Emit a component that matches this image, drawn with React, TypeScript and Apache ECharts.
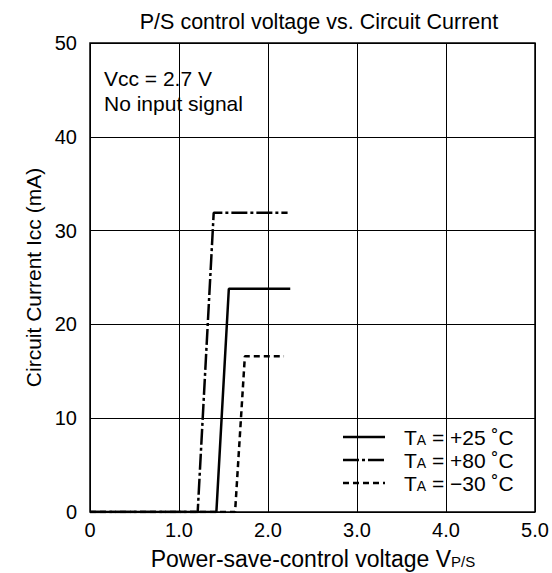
import React, { useEffect, useRef } from "react";
import * as echarts from "echarts";

const xTicks = [0, 1, 2, 3, 4, 5];
const yTicks = [0, 10, 20, 30, 40, 50];
const seriesNames = ["TA = +25 °C", "TA = +80 °C", "TA = −30 °C"];
const legendLabels = ["+25", "+80", "−30"];
const t25: [number, number][] = [[0, 0], [1.42, 0], [1.56, 23.8], [2.25, 23.8]];
const t80: [number, number][] = [[0, 0], [1.21, 0], [1.39, 31.9], [2.22, 31.9]];
const tm30: [number, number][] = [[0, 0], [1.63, 0], [1.74, 16.6], [2.18, 16.6]];

const FONT = "Liberation Sans, Arial, sans-serif";
const FS = 21;

export default function App() {
  const ref = useRef<HTMLDivElement>(null);
  useEffect(() => {
    if (!ref.current) return;
    const chart = echarts.init(ref.current, null, { renderer: "svg" });
    const dashTypes: any[] = ["solid", [16, 3, 3, 3], [6, 4]];
    const legendY = [437, 460, 483];
    const graphics: any[] = [];
    legendY.forEach((y, i) => {
      graphics.push({
        type: "line",
        shape: { x1: 343, y1: y, x2: 385, y2: y },
        style: { stroke: "#000", lineWidth: 2.5, lineDash: i === 0 ? null : dashTypes[i] },
      });
      graphics.push({
        type: "text",
        x: 404,
        y,
        style: {
          text: `{a|T}{s|A}{a| = ${legendLabels[i]} ˚C}`,
          verticalAlign: "middle",
          rich: {
            a: { fontSize: FS, fontFamily: FONT, fill: "#000" },
            s: { fontSize: 14, fontFamily: FONT, fill: "#000", padding: [5, 0, 0, 0] },
          },
        },
      });
    });
    graphics.push({
      type: "text",
      x: 104,
      y: 78,
      style: { text: "Vcc = 2.7 V", fontSize: FS, fontFamily: FONT, fill: "#000", verticalAlign: "middle" },
    });
    graphics.push({
      type: "text",
      x: 104,
      y: 103,
      style: { text: "No input signal", fontSize: FS, fontFamily: FONT, fill: "#000", verticalAlign: "middle" },
    });
    graphics.push({
      type: "text",
      x: 313,
      y: 559,
      style: {
        text: "{a|Power-save-control voltage V}{s|P/S}",
        align: "center",
        verticalAlign: "middle",
        rich: {
          a: { fontSize: 23, fontFamily: FONT, fill: "#000" },
          s: { fontSize: 15, fontFamily: FONT, fill: "#000", padding: [5, 0, 0, 0] },
        },
      },
    });

    const mkSeries = (name: string, data: [number, number][], type: any) => ({
      name,
      type: "line",
      data,
      symbol: "none",
      lineStyle: { color: "#000", width: 2.5, type },
      z: 5,
    });

    chart.setOption({
      animation: false,
      title: {
        text: "P/S control voltage vs. Circuit Current",
        left: 314,
        top: 6,
        textAlign: "center",
        textStyle: { fontSize: 21.5, fontWeight: "normal", fontFamily: FONT, color: "#000" },
      },
      grid: { left: 90, right: 17, top: 43, bottom: 61, show: true, borderColor: "#000", borderWidth: 1.5, backgroundColor: "transparent" },
      xAxis: {
        type: "value",
        min: xTicks[0],
        max: xTicks[xTicks.length - 1],
        interval: 1,
        axisLine: { show: false },
        axisTick: { show: false },
        splitLine: { show: true, lineStyle: { color: "#000", width: 1 } },
        axisLabel: {
          fontSize: 20,
          fontFamily: FONT,
          color: "#000",
          margin: 8,
          formatter: (v: number) => (v === 0 ? "0" : v.toFixed(1)),
        },
      },
      yAxis: {
        type: "value",
        min: yTicks[0],
        max: yTicks[yTicks.length - 1],
        interval: 10,
        name: "Circuit Current Icc (mA)",
        nameLocation: "middle",
        nameGap: 43,
        nameTextStyle: { fontSize: FS, fontFamily: FONT, color: "#000" },
        axisLine: { show: false },
        axisTick: { show: false },
        splitLine: { show: true, lineStyle: { color: "#000", width: 1 } },
        axisLabel: { fontSize: 20, fontFamily: FONT, color: "#000", margin: 13 },
      },
      series: [
        mkSeries(seriesNames[0], t25, dashTypes[0]),
        mkSeries(seriesNames[1], t80, dashTypes[1]),
        mkSeries(seriesNames[2], tm30, dashTypes[2]),
      ],
      graphic: graphics,
    });
    return () => chart.dispose();
  }, []);
  return <div ref={ref} style={{ width: 552, height: 573, position: "absolute", left: 0, top: 0, background: "#fff" }} />;
}
